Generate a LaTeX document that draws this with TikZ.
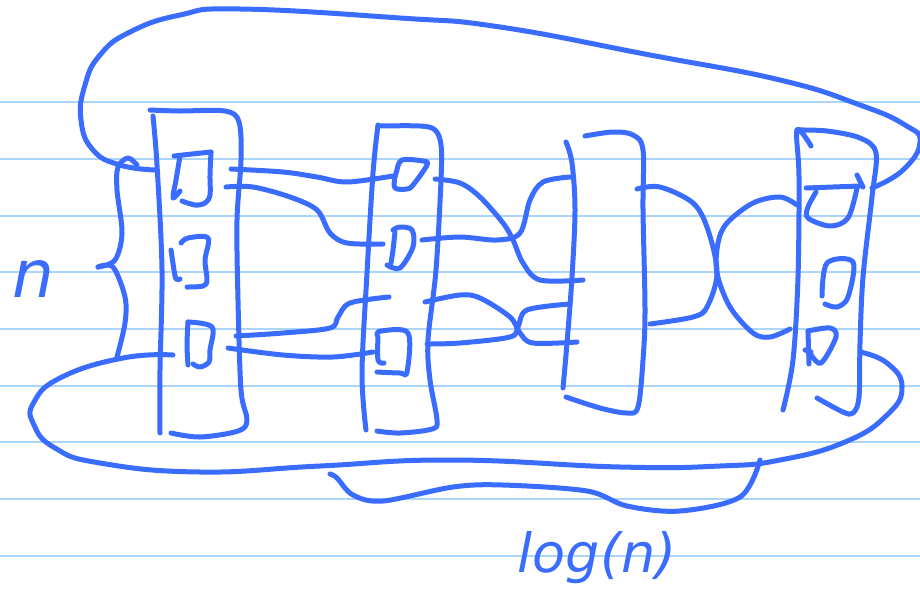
\documentclass[tikz,border=0pt]{standalone}
\usepackage{fontspec}
\setmainfont{DejaVu Sans}
\definecolor{ink}{HTML}{3A6CFF}
\definecolor{rule}{HTML}{ABD5FB}
\tikzset{
  pen/.style={draw=ink,line width=5pt,line cap=round,line join=round},
  ruled/.style={draw=rule,line width=2pt},
  handtext/.style={text=ink,font=\itshape,inner sep=0pt}
}
\newcommand{\stroke}[1]{\draw[pen] plot[smooth,tension=0.55] coordinates {#1};}
\newcommand{\loopstroke}[1]{\draw[pen] plot[smooth,tension=0.8] coordinates {#1};}
\begin{document}
\begin{tikzpicture}[x=1pt,y=-1pt]
\useasboundingbox (0,0) rectangle (920,611);
\fill[white] (0,0) rectangle (920,611);
\foreach \yy in {102,159,216,272,329,386,442,499,556}
  \draw[ruled] (0,\yy) -- (920,\yy);

% column 1
\stroke{(153,116)(157,165)(162,270)(160,370)(160,433)}
\stroke{(150,110)(180,111)(225,111)(239,122)(241,160)(237,220)(238,300)(241,390)(247,420)(238,431)(200,437)(171,433)}
% boxes column 1
\stroke{(174,156)(192,154)(211,152)}
\stroke{(211,152)(210,175)(210,195)(205,203)(195,205)(182,201)}
\stroke{(180,156)(176,180)(173,198)(180,191)}
\stroke{(181,243)(188,238)(208,238)(205,260)(207,280)(203,286)(187,287)}
\stroke{(171,250)(174,270)(176,279)(180,279)}
\stroke{(188,322)(212,327)(210,350)(209,362)(200,367)(193,364)}
\stroke{(188,322)(187,345)(188,365)}
% links column 1 to 2
\stroke{(231,169)(283,172)(317,177)(347,182)(393,176)}
\stroke{(226,187)(253,187)(290,197)(317,210)(330,233)(347,243)(383,244)}
\stroke{(236,336)(283,333)(330,328)(338,317)(350,303)(389,297)}
\stroke{(228,348)(283,355)(333,357)(373,352)}

% column 2
\stroke{(378,125)(373,173)(367,273)(362,373)(366,430)}
\stroke{(378,126)(420,126)(435,130)(441,145)(441,180)(436,270)(428,340)(430,380)(437,420)(432,429)(400,433)(377,431)}
% boxes column 2
\stroke{(397,170)(402,160)(423,161)(427,165)(413,185)(407,189)(395,188)(395,177)(397,170)}
\stroke{(393,230)(400,227)(412,230)(413,247)(400,268)(387,265)}
\stroke{(395,232)(393,250)(391,263)}
\stroke{(377,335)(381,331)(408,333)(407,372)(400,373)(377,372)}
\stroke{(378,337)(378,360)(384,363)}
% links column 2 to 3
\stroke{(435,179)(460,183)(480,197)(503,223)(513,240)(523,263)(540,280)(583,280)}
\stroke{(422,240)(460,237)(497,240)(520,233)(530,200)(543,182)(570,177)}
\stroke{(425,302)(460,295)(480,298)(510,317)(520,333)(533,343)(577,342)}
\stroke{(427,344)(460,343)(510,337)(518,327)(527,310)(570,304)}

% column 3
\stroke{(566,142)(572,163)(575,210)(572,277)(567,343)(563,388)}
\stroke{(585,136)(613,132)(633,135)(643,150)(643,210)(645,310)(643,360)(638,407)(627,413)(600,408)(566,397)}
% links column 3 to 4
\stroke{(637,189)(660,187)(693,203)(708,230)(717,273)(707,307)(693,317)(650,324)}
\stroke{(797,205)(780,197)(753,203)(727,223)(718,243)(717,273)(730,307)(753,333)(770,337)(790,329)}

% column 4
\stroke{(811,146)(797,130)(799,177)(798,277)(793,360)(783,410)}
\stroke{(797,130)(827,131)(860,138)(876,153)(872,197)(863,277)(860,343)(859,397)(853,413)(843,412)(817,398)}
% boxes column 4
\stroke{(806,188)(860,186)}
\stroke{(857,175)(863,187)}
\stroke{(816,192)(808,207)(808,218)(830,226)(848,218)(857,188)}
\stroke{(822,296)(827,263)(853,262)(848,297)(837,307)(825,304)}
\stroke{(808,331)(809,364)}
\stroke{(805,350)(811,352)}
\stroke{(808,331)(830,328)(836,337)(821,363)(810,353)}

% outer loops
\loopstroke{(155,170)(120,165)(93,150)(81,120)(85,85)(100,55)(130,32)(180,15)(240,9)(400,18)(500,27)(650,55)(780,80)(860,105)(905,125)(920,142)(903,170)(872,188)}
\loopstroke{(173,355)(123,358)(62,377)(34,402)(34,425)(55,448)(100,463)(200,472)(320,466)(453,460)(620,467)(720,466)(780,460)(845,442)(887,415)(902,387)(887,363)(860,352)}
% under-brace
\stroke{(330,474)(337,478)(353,495)(383,501)(453,487)(503,485)(587,491)(627,506)(680,511)(740,497)(760,460)}
% n brace
\stroke{(137,165)(128,158)(118,167)(117,190)(122,233)(115,260)(98,267)}
\stroke{(98,267)(113,267)(125,297)(125,323)(117,357)}

% labels
\node[handtext,font=\itshape\fontsize{66}{66}\selectfont,anchor=base] (nlabel) at (33,297) {n};
\node[handtext,font=\itshape\fontsize{54}{54}\selectfont,anchor=base] (loglabel) at (597,572) {log(n)};
\end{tikzpicture}
\end{document}
